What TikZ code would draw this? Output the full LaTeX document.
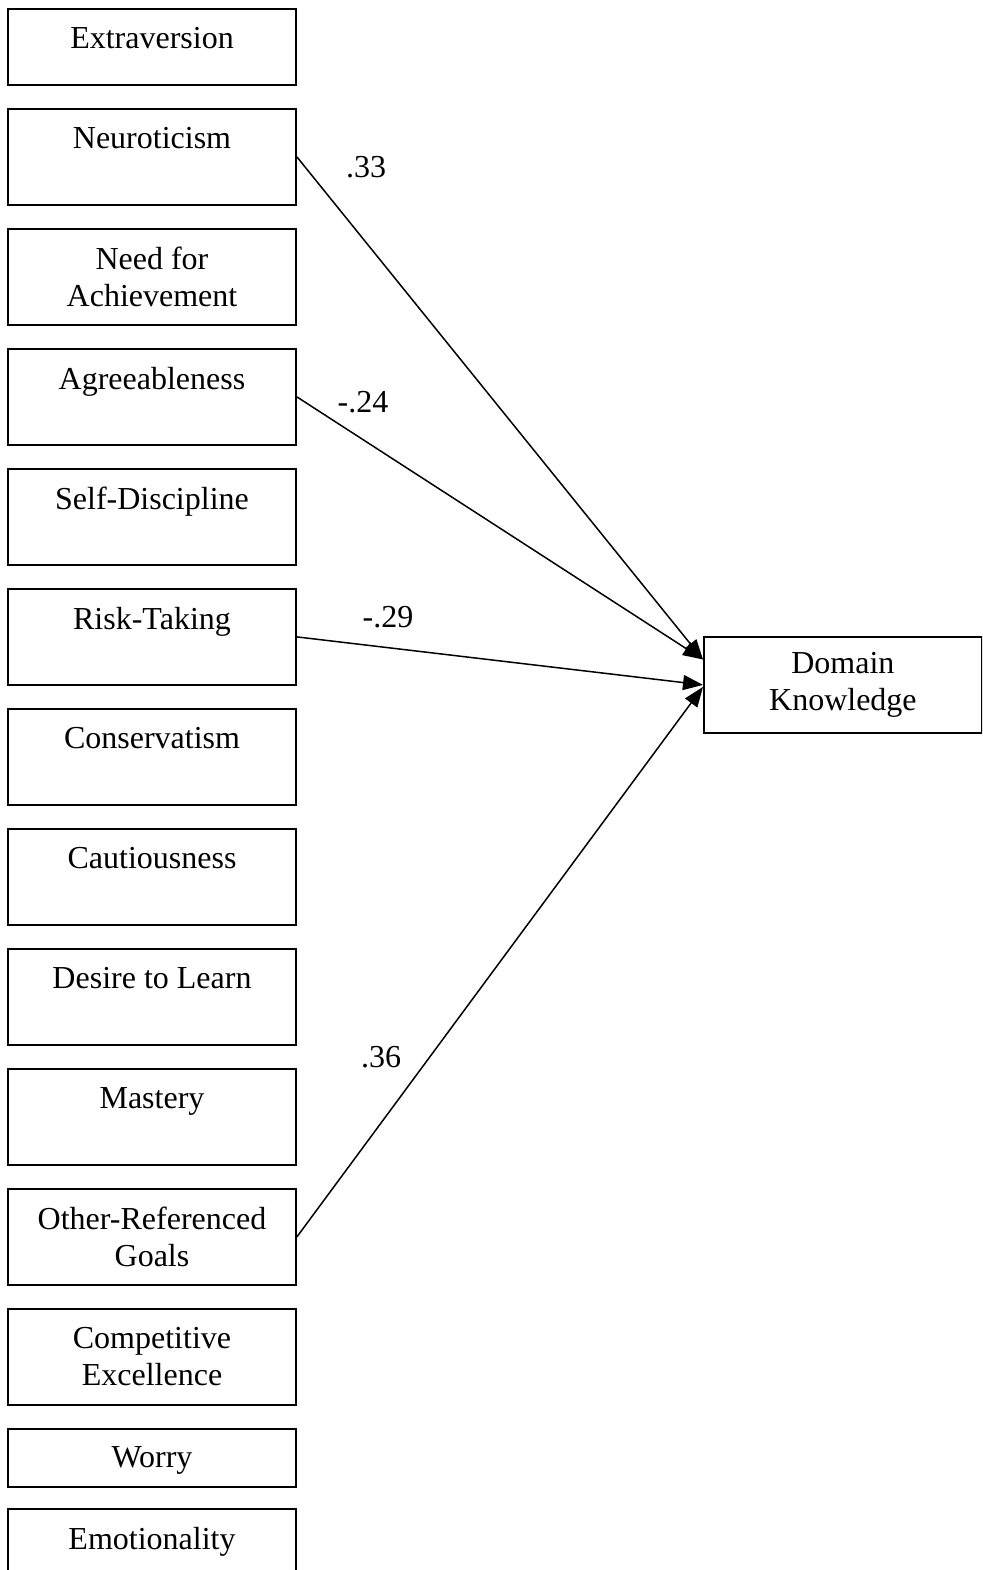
\documentclass[tikz,border=0pt]{standalone}
\usepackage{fontspec}
\setmainfont{Liberation Serif}
\usetikzlibrary{arrows.meta,calc}
\begin{document}
\begin{tikzpicture}[x=1pt,y=-1pt,
  box/.style={draw, line width=1.8pt, minimum width=288pt, minimum height=96pt, inner sep=0pt, anchor=north},
  txt/.style={font=\fontsize{32}{37}\selectfont, align=center, anchor=north, inner sep=0pt},
  effect/.style={line width=1.5pt, -{Triangle[length=20pt,width=15pt]}},
  coef/.style={font=\fontsize{32}{37}\selectfont, inner sep=0pt}]
\useasboundingbox (0,0) rectangle (982,1570);
\clip (0,0) rectangle (982,1570);

% predictor boxes
\node[box, minimum height=76pt] (ext) at (152,8) {};
\node[txt] (ext-t) at (152,27) {Extraversion};
\node[box] (neu) at (152,108) {};
\node[txt] (neu-t) at (152,127) {Neuroticism};
\node[box] (nach) at (152,228) {};
\node[txt] (nach-t) at (152,247) {Need for\\Achievement};
\node[box] (agr) at (152,348) {};
\node[txt] (agr-t) at (152,367) {Agreeableness};
\node[box] (sd) at (152,468) {};
\node[txt] (sd-t) at (152,487) {Self-Discipline};
\node[box] (rt) at (152,588) {};
\node[txt] (rt-t) at (152,607) {Risk-Taking};
\node[box] (con) at (152,708) {};
\node[txt] (con-t) at (152,727) {Conservatism};
\node[box] (cau) at (152,828) {};
\node[txt] (cau-t) at (152,847) {Cautiousness};
\node[box] (dtl) at (152,948) {};
\node[txt] (dtl-t) at (152,967) {Desire to Learn};
\node[box] (mas) at (152,1068) {};
\node[txt] (mas-t) at (152,1087) {Mastery};
\node[box] (org) at (152,1188) {};
\node[txt] (org-t) at (152,1207) {Other-Referenced\\Goals};
\node[box] (ce) at (152,1308) {};
\node[txt] (ce-t) at (152,1327) {Competitive\\Excellence};
\node[box, minimum height=58pt] (wor) at (152,1428) {};
\node[txt] (wor-t) at (152,1446) {Worry};
\node[box] (emo) at (152,1508) {};
\node[txt] (emo-t) at (152,1527) {Emotionality};

% outcome box
\node[box, minimum width=278pt, anchor=north west] (dk) at (703,636) {};
\node[txt, anchor=center] (dk-t) at (dk.center) {Domain\\Knowledge};

% significant paths
\draw[effect] (neu.east) -- ($(dk.north west)!0.24!(dk.south west)$);
\draw[effect] (agr.east) -- ($(dk.north west)!0.24!(dk.south west)$);
\draw[effect] (rt.east) -- (dk.west);
\draw[effect] (org.east) -- ($(dk.west)+(0,2)$);

% path coefficients
\node[coef] (c-neu) at (366,167) {.33};
\node[coef] (c-agr) at (363,402) {-.24};
\node[coef] (c-rt) at (388,617) {-.29};
\node[coef] (c-org) at (381,1057) {.36};
\end{tikzpicture}
\end{document}
